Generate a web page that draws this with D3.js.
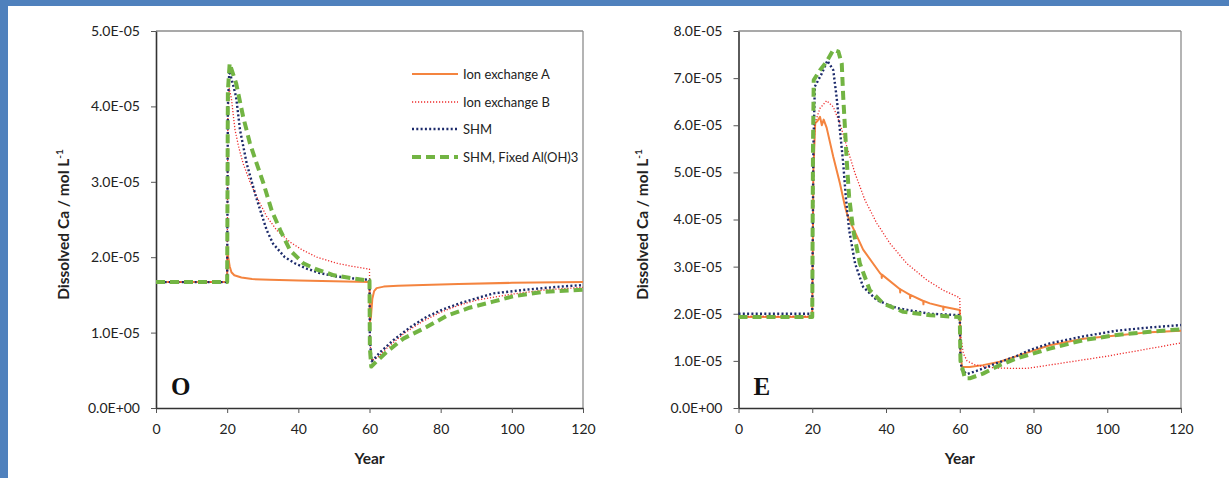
<!DOCTYPE html>
<html><head><meta charset="utf-8">
<script src="https://cdn.jsdelivr.net/npm/d3@7"></script>
<style>
html,body{margin:0;padding:0;background:#fff;}
svg{display:block;}
</style></head>
<body>
<svg id="c" width="1229" height="478"></svg>
<script>
// ---------- DATA (years, dissolved Ca in mol/L) ----------
const xTicks = [0, 20, 40, 60, 80, 100, 120];
const oYTicks = [0, 1e-5, 2e-5, 3e-5, 4e-5, 5e-5];
const oYTickLabels = ["0.0E+00","1.0E-05","2.0E-05","3.0E-05","4.0E-05","5.0E-05"];
const eYTicks = [0, 1e-5, 2e-5, 3e-5, 4e-5, 5e-5, 6e-5, 7e-5, 8e-5];
const eYTickLabels = ["0.0E+00","1.0E-05","2.0E-05","3.0E-05","4.0E-05","5.0E-05","6.0E-05","7.0E-05","8.0E-05"];
const seriesNames = ["Ion exchange A", "Ion exchange B", "SHM", "SHM, Fixed Al(OH)3"];

// Panel O  ([year, value x 1E-05])
const oIonA = [[0,1.67],[20,1.67],[20.05,2.15],[20.3,2.0],[20.7,1.88],[21.2,1.8],[22,1.76],[24,1.73],[27,1.71],[32,1.70],[40,1.69],[50,1.68],[60,1.67],[60.15,1.15],[60.4,1.2],[60.8,1.45],[61.3,1.55],[62,1.59],[64,1.61],[68,1.62],[75,1.63],[85,1.645],[100,1.66],[120,1.67]];
const oIonB = [[0,1.67],[20,1.67],[20.2,3.9],[20.6,4.24],[21.2,4.1],[22.2,3.69],[23.3,3.45],[24.5,3.24],[26.4,3.0],[28.3,2.8],[31.1,2.54],[33.9,2.36],[37.7,2.2],[41,2.1],[45.2,2.0],[50.8,1.92],[55,1.88],[60,1.84],[60.1,0.9],[60.6,0.63],[62,0.66],[65,0.8],[70,1.0],[75,1.15],[80,1.27],[85,1.36],[90,1.43],[100,1.51],[110,1.57],[120,1.6]];
const oSHM = [[0,1.67],[20,1.67],[20.2,4.0],[20.6,4.47],[21.3,4.35],[22.5,4.13],[23.6,3.69],[25.5,3.24],[28.1,2.8],[31.1,2.36],[32.9,2.18],[36.2,2.0],[39,1.92],[42.3,1.85],[46,1.79],[50,1.75],[55,1.72],[60,1.7],[60.1,0.9],[60.6,0.62],[61.1,0.64],[63,0.74],[66.7,0.9],[71.4,1.07],[76.1,1.21],[80.8,1.31],[85.4,1.39],[94.8,1.52],[104.2,1.57],[113.5,1.61],[120,1.63]];
const oSHMF = [[0,1.67],[20,1.67],[20.2,4.2],[20.7,4.57],[21.5,4.45],[22.5,4.31],[24.5,3.86],[26.4,3.51],[28.3,3.24],[30.2,2.98],[32.5,2.62],[34.9,2.36],[37.7,2.09],[41.4,1.92],[45,1.84],[50,1.76],[55,1.72],[60,1.69],[60.1,0.8],[60.5,0.55],[62,0.62],[65,0.75],[69.5,0.92],[75.9,1.07],[81.6,1.22],[88.1,1.33],[94.7,1.41],[100.3,1.48],[108.7,1.54],[120,1.57]];

// Panel E  ([year, value x 1E-05])
const eIonA = [[0,1.93],[20,1.93],[20.3,5.0],[20.8,6.04],[21.5,6.1],[22.1,6.18],[22.6,6.0],[23.1,6.12],[23.9,5.95],[25.7,5.33],[27.5,4.77],[28.9,4.27],[29.5,4.1],[30.9,3.85],[33.8,3.36],[38.4,2.86],[38.8,2.83],[38.85,2.76],[38.9,2.83],[43.8,2.52],[43.85,2.45],[43.9,2.52],[46.5,2.4],[46.55,2.33],[46.6,2.4],[50.1,2.27],[50.15,2.2],[50.2,2.27],[51.9,2.22],[55.5,2.15],[55.55,2.08],[55.6,2.15],[60,2.08],[60.2,1.2],[60.6,0.87],[62.7,0.87],[66.3,0.91],[70.9,0.98],[75.4,1.1],[84.4,1.33],[93.5,1.47],[102.5,1.54],[111.6,1.61],[120,1.64]];
const eIonB = [[0,1.95],[20,1.95],[20.3,5.0],[20.7,6.04],[22.1,6.36],[23.9,6.52],[25.7,6.39],[27.5,6.04],[29.4,5.54],[31.6,4.98],[34.3,4.41],[37.5,3.92],[41.1,3.49],[45.6,3.07],[51,2.72],[55.5,2.5],[60,2.34],[60.3,1.5],[61,1.15],[62,1.0],[64,0.92],[67,0.87],[70,0.85],[75,0.84],[78,0.84],[80,0.86],[90,0.98],[100,1.1],[110,1.24],[120,1.38]];
const eSHM = [[0,2.0],[20,2.0],[20.3,5.5],[20.7,6.82],[22.6,7.1],[24.1,7.37],[25.7,7.17],[26.6,6.6],[27.5,5.9],[28.4,5.19],[29.1,4.48],[30,3.78],[31.6,3.07],[33.8,2.57],[37.5,2.29],[42.9,2.12],[51.9,2.0],[60,1.97],[60.2,1.0],[60.6,0.8],[62,0.72],[65,0.8],[70,0.95],[75.4,1.1],[79,1.23],[84.4,1.37],[93.5,1.52],[102.5,1.64],[111.6,1.71],[120,1.76]];
const eSHMF = [[0,1.93],[20,1.93],[20.2,5.5],[20.4,6.96],[22.1,7.17],[23.9,7.35],[25.7,7.6],[27.1,7.56],[28,7.31],[28.4,6.6],[28.9,5.9],[29.4,5.19],[30,4.48],[31.1,3.78],[32.9,3.07],[35.6,2.5],[39.2,2.22],[44.7,2.04],[52,1.97],[60,1.93],[60.2,1.0],[61.4,0.63],[62.7,0.63],[66.3,0.73],[70.9,0.91],[75.4,1.05],[84.4,1.26],[93.5,1.44],[102.5,1.55],[111.6,1.62],[120,1.67]];
const UNIT = 1e-5;

// ---------- STYLES ----------
const styles = [
  {color:"#f4843f", width:2,   dash:null},
  {color:"#ee2b2b", width:1.3, dash:"1.2,1.8"},
  {color:"#1c2a6b", width:2.4, dash:"2,2.3"},
  {color:"#72b443", width:4,   dash:"9,5"}
];
const FONT = "Lato, 'Open Sans', sans-serif";

const svg = d3.select("#c");
// blue frame of the slide
svg.append("rect").attr("x",0).attr("y",0).attr("width",1229).attr("height",6).attr("fill","#4f81bd");
svg.append("rect").attr("x",0).attr("y",0).attr("width",8).attr("height",478).attr("fill","#4f81bd");

function panel(cfg){
  const g = svg.append("g");
  const x = d3.scaleLinear().domain([0,120]).range([cfg.x0, cfg.x1]);
  const y = d3.scaleLinear().domain([0, cfg.yMax]).range([cfg.yb, cfg.yt]);

  g.append("line").attr("x1",cfg.x0).attr("x2",cfg.x1).attr("y1",cfg.yt).attr("y2",cfg.yt).attr("stroke","#8c8c8c").attr("stroke-width",1.3);
  g.append("line").attr("x1",cfg.x1).attr("x2",cfg.x1).attr("y1",cfg.yt).attr("y2",cfg.yb).attr("stroke","#8c8c8c").attr("stroke-width",1.3);

  const xa = g.append("g").attr("transform",`translate(0,${cfg.yb})`)
    .call(d3.axisBottom(x).tickValues(xTicks).tickSize(5).tickPadding(11).tickSizeOuter(0));
  const ya = g.append("g").attr("transform",`translate(${cfg.x0},0)`)
    .call(d3.axisLeft(y).tickValues(cfg.yTicks).tickSize(5).tickPadding(11).tickSizeOuter(0)
      .tickFormat((d,i)=>cfg.yLabels[i]));
  [xa,ya].forEach(a=>{
    a.select(".domain").attr("stroke","#333").attr("stroke-width",1.6);
    a.selectAll(".tick line").attr("stroke","#555").attr("stroke-width",1);
    a.selectAll("text").attr("font-family",FONT).attr("font-size",14).attr("fill","#222");
  });

  const line = d3.line().x(d=>x(d[0])).y(d=>y(d[1]*UNIT));
  cfg.series.forEach((s,i)=>{
    const st = styles[i];
    g.append("path").datum(s).attr("d",line).attr("fill","none")
      .attr("stroke",st.color).attr("stroke-width",st.width)
      .attr("stroke-dasharray",st.dash).attr("stroke-linejoin","round");
  });

  g.append("text").attr("x",(cfg.x0+cfg.x1)/2).attr("y",464).attr("text-anchor","middle")
    .attr("font-family",FONT).attr("font-weight","bold").attr("font-size",15.5).attr("fill","#222").text("Year");
  const yt = g.append("text").attr("transform",`translate(${cfg.ytx},${(cfg.yt+cfg.yb)/2+5}) rotate(-90)`)
    .attr("text-anchor","middle").attr("font-family",FONT).attr("font-weight","bold").attr("font-size",15.5).attr("fill","#222");
  yt.append("tspan").text("Dissolved Ca / mol L");
  yt.append("tspan").attr("dy",-6).attr("font-size",10).text("-1");

  g.append("text").attr("x",cfg.x0+15).attr("y",cfg.yb-13).attr("font-family","'Liberation Serif', 'DejaVu Serif', serif")
    .attr("font-weight","bold").attr("font-size",25).attr("fill","#111").text(cfg.letter);
  return {g,x,y};
}

panel({x0:156, x1:583, yt:31, yb:408, yMax:5e-5, yTicks:oYTicks, yLabels:oYTickLabels,
  series:[oIonA,oIonB,oSHM,oSHMF], letter:"O", ytx:69});
panel({x0:738.5, x1:1181, yt:31, yb:408, yMax:8e-5, yTicks:eYTicks, yLabels:eYTickLabels,
  series:[eIonA,eIonB,eSHM,eSHMF], letter:"E", ytx:648});

// legend (panel O)
const leg = svg.append("g");
const legY = [74, 102, 129, 157];
seriesNames.forEach((n,i)=>{
  const st = styles[i];
  leg.append("line").attr("x1",412).attr("x2",458).attr("y1",legY[i]).attr("y2",legY[i])
    .attr("stroke",st.color).attr("stroke-width",st.width).attr("stroke-dasharray",st.dash);
  leg.append("text").attr("x",463).attr("y",legY[i]+4.5).attr("font-family",FONT).attr("font-size",13)
    .attr("fill","#222").text(n);
});
</script>
</body></html>
